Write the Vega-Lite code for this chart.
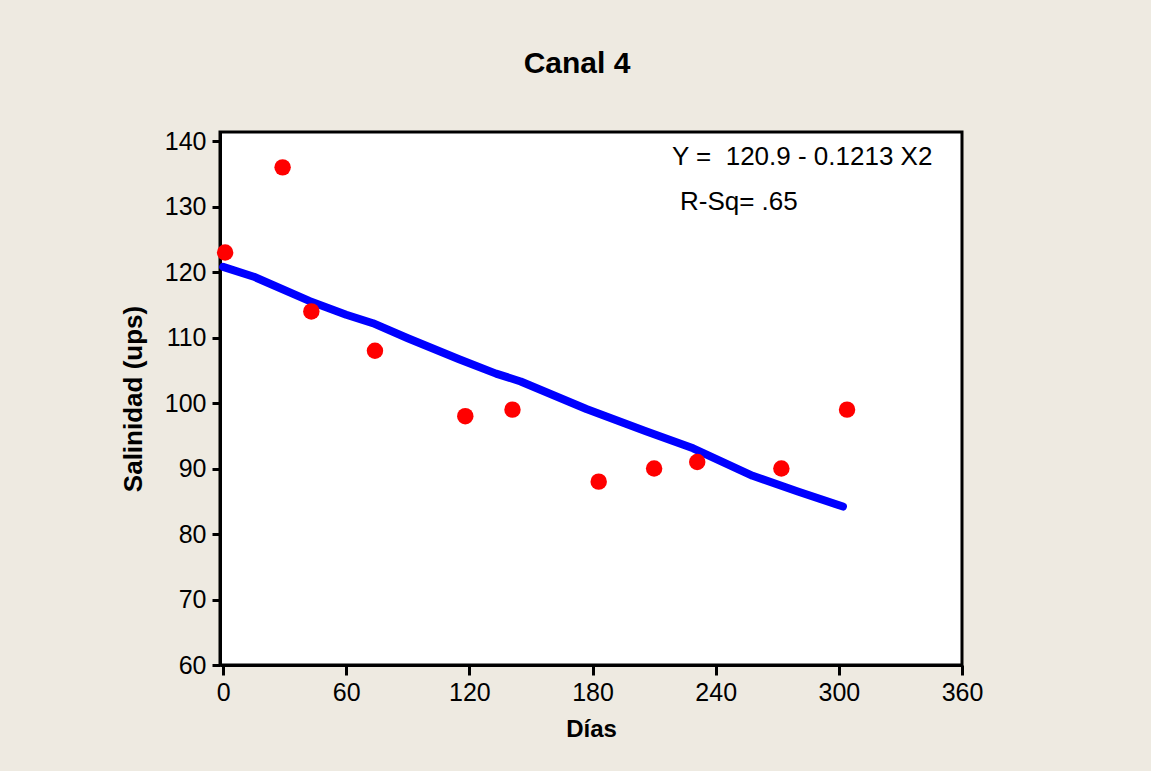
{
  "$schema": "https://vega.github.io/schema/vega-lite/v6.json",
  "width": 742,
  "height": 533,
  "autosize": {"type": "none"},
  "padding": {"left": 220, "top": 132, "right": 189, "bottom": 106},
  "background": "#EEEAE1",
  "title": {
    "text": "Canal 4",
    "font": "Liberation Sans",
    "fontSize": 30,
    "fontWeight": "bold",
    "color": "#000000",
    "anchor": "middle",
    "dx": -14,
    "baseline": "alphabetic",
    "offset": 26
  },
  "config": {
    "view": {"stroke": "#000000", "strokeWidth": 3, "fill": "#FFFFFF"},
    "axis": {
      "grid": false,
      "domainColor": "#000000",
      "domainWidth": 3,
      "tickColor": "#000000",
      "tickWidth": 3,
      "labelFont": "Liberation Sans",
      "labelFontSize": 25,
      "labelColor": "#000000",
      "labelFlush": false,
      "labelOverlap": false,
      "titleFont": "Liberation Sans",
      "titleFontSize": 24,
      "titleFontWeight": "bold",
      "titleColor": "#000000"
    }
  },
  "datasets": {
    "obs": [
      {"dias": 1, "salinidad": 123},
      {"dias": 29, "salinidad": 136},
      {"dias": 43, "salinidad": 114},
      {"dias": 74, "salinidad": 108},
      {"dias": 118, "salinidad": 98},
      {"dias": 141, "salinidad": 99},
      {"dias": 183, "salinidad": 88},
      {"dias": 210, "salinidad": 90},
      {"dias": 231, "salinidad": 91},
      {"dias": 272, "salinidad": 90},
      {"dias": 304, "salinidad": 99}
    ],
    "fit": [
      {"dias": 0, "salinidad": 120.8},
      {"dias": 15, "salinidad": 119.3},
      {"dias": 42, "salinidad": 115.6},
      {"dias": 60, "salinidad": 113.5},
      {"dias": 73, "salinidad": 112.2},
      {"dias": 90, "salinidad": 109.9},
      {"dias": 115, "salinidad": 106.7},
      {"dias": 133, "salinidad": 104.5},
      {"dias": 145, "salinidad": 103.3},
      {"dias": 177, "salinidad": 99.1},
      {"dias": 206, "salinidad": 95.7},
      {"dias": 229, "salinidad": 93.1},
      {"dias": 258, "salinidad": 88.9},
      {"dias": 280, "salinidad": 86.5},
      {"dias": 302, "salinidad": 84.2}
    ],
    "notes": [
      {"dias": 218.7, "salinidad": 136.3, "label": "Y =\u00a0 120.9 - 0.1213 X2"},
      {"dias": 222.6, "salinidad": 129.5, "label": "R-Sq= .65"}
    ]
  },
  "encoding": {
    "x": {
      "field": "dias",
      "type": "quantitative",
      "scale": {"domain": [-1.5, 360], "nice": false, "zero": false},
      "axis": {
        "title": "Días",
        "values": [0, 60, 120, 180, 240, 300, 360],
        "tickSize": 10,
        "labelPadding": 5,
        "titlePadding": 12
      }
    },
    "y": {
      "field": "salinidad",
      "type": "quantitative",
      "scale": {"domain": [60, 141.4], "nice": false, "zero": false},
      "axis": {
        "title": "Salinidad (ups)",
        "titleFontSize": 26,
        "values": [60, 70, 80, 90, 100, 110, 120, 130, 140],
        "tickSize": 8,
        "labelPadding": 6,
        "titlePadding": 18
      }
    }
  },
  "layer": [
    {
      "data": {"name": "fit"},
      "mark": {"type": "line", "color": "#0000FF", "strokeWidth": 8, "strokeCap": "round", "strokeJoin": "round"}
    },
    {
      "data": {"name": "obs"},
      "mark": {"type": "circle", "color": "#FF0000", "opacity": 1, "size": 270}
    },
    {
      "data": {"name": "notes"},
      "mark": {"type": "text", "align": "left", "baseline": "alphabetic", "font": "Liberation Sans", "fontSize": 26, "color": "#000000"},
      "encoding": {"text": {"field": "label", "type": "nominal"}}
    }
  ]
}
